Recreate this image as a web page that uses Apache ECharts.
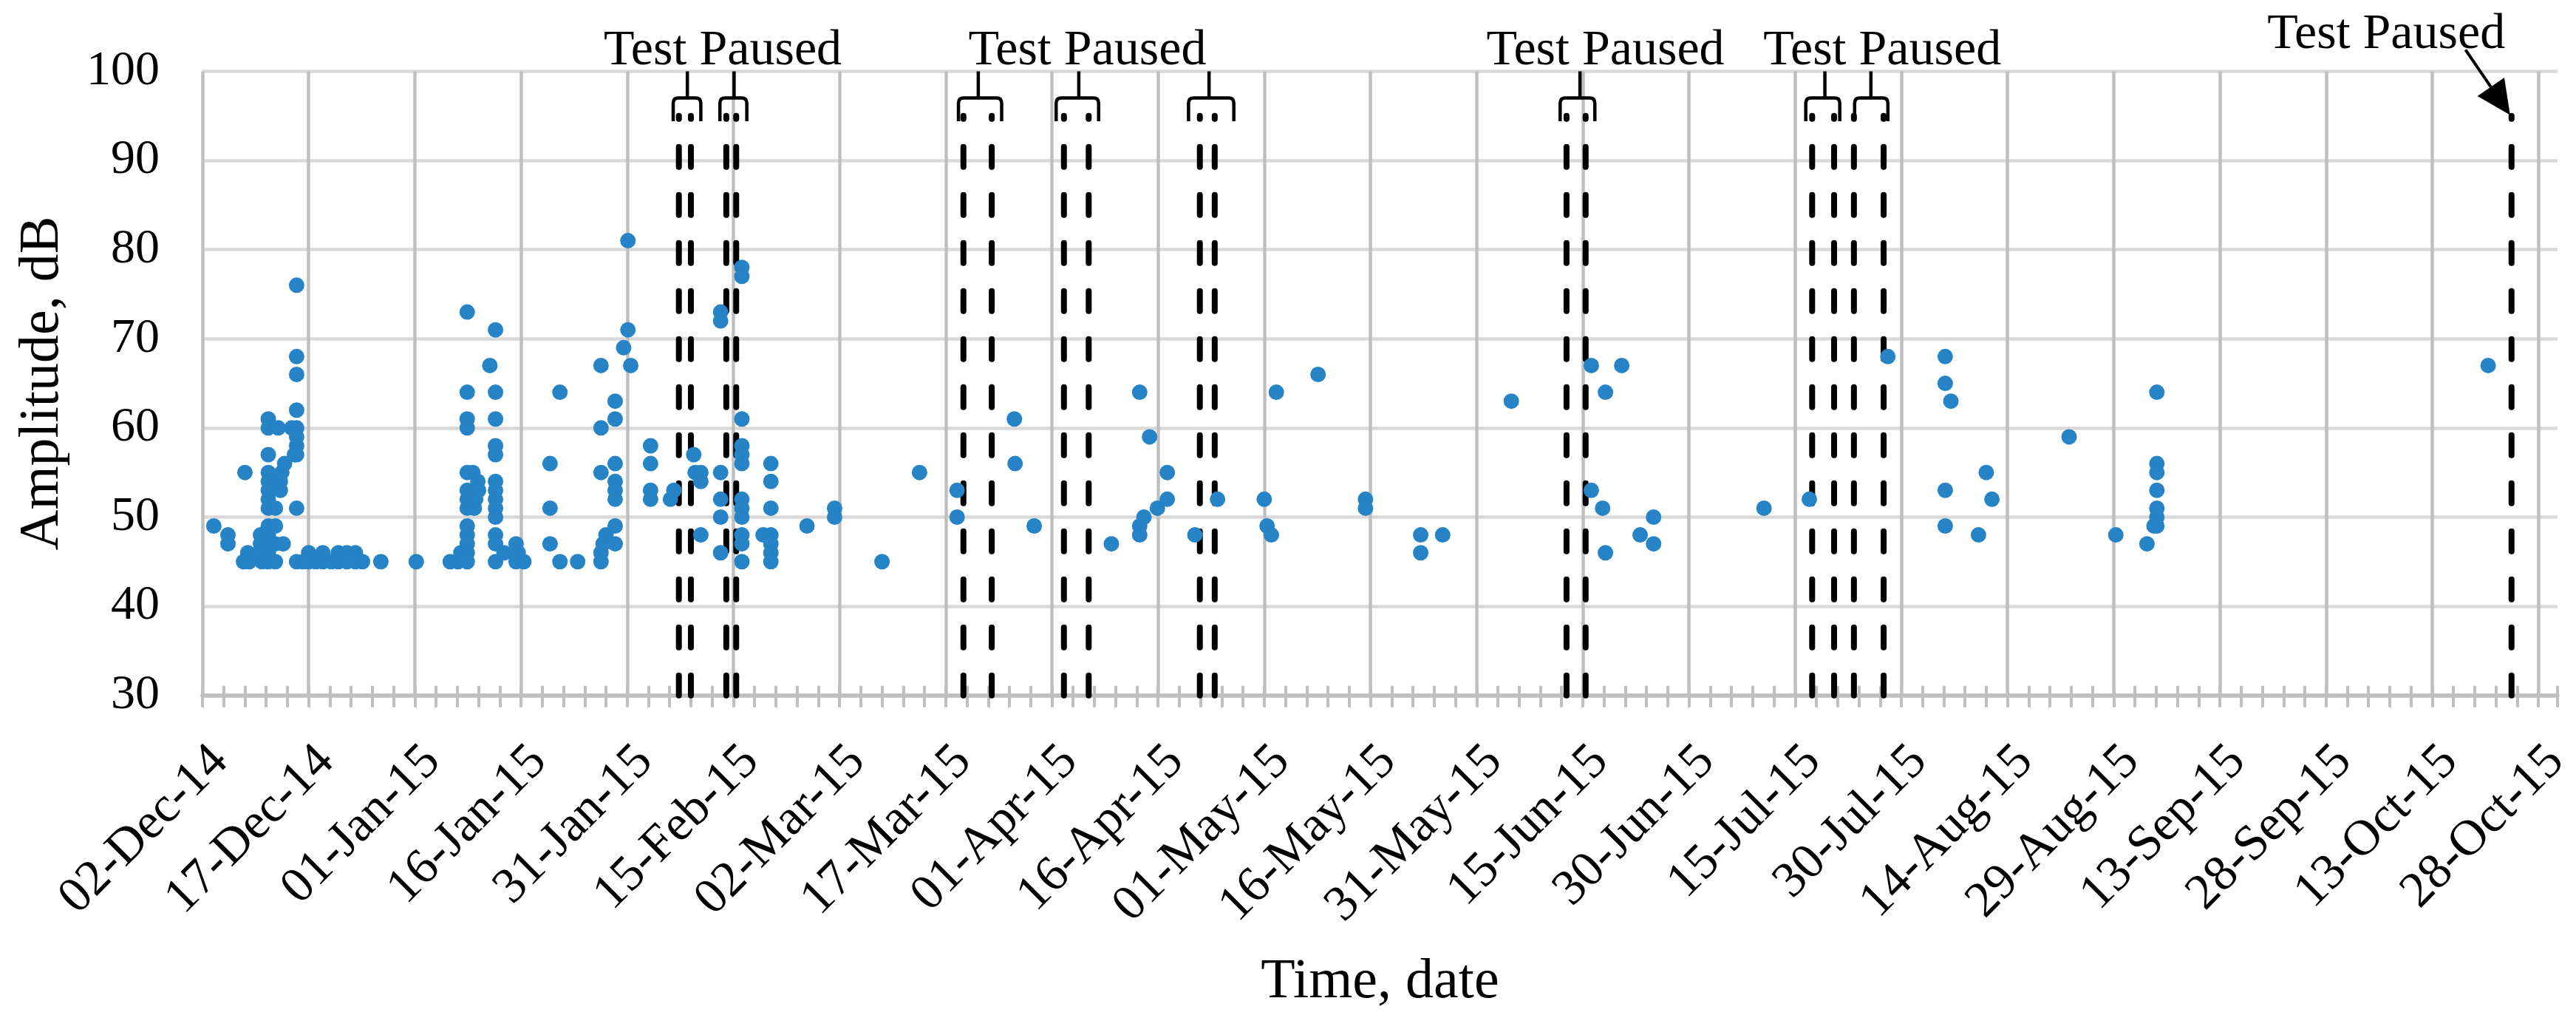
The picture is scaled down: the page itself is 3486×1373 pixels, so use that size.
<!DOCTYPE html>
<html><head><meta charset="utf-8">
<script src="https://cdn.jsdelivr.net/npm/echarts@6/dist/echarts.min.js"></script>
<style>html,body{margin:0;padding:0;background:#fff}#c{width:3486px;height:1373px}</style>
</head><body><div id="c"></div>
<script>
// ---- axis definition ----
const startDateUTC = Date.UTC(2014, 11, 2);   // 02-Dec-14 = day 0
const xMaxDays = 332.7;
const xTickStep = 15;
const xMinorStep = 3;
const yMin = 30, yMax = 100, yStep = 10;
const monthNames = ['Jan','Feb','Mar','Apr','May','Jun','Jul','Aug','Sep','Oct','Nov','Dec'];

// ---- AE hits: day offset from 02-Dec-14 and amplitude (dB) ----
const eventDays = [
  1.6, 3.6, 3.6, 6.0, 6.4, 5.8, 6.6, 8.2, 8.2, 8.4, 8.1,
  9.3, 9.3, 9.3, 9.3, 9.3, 9.3, 9.3, 9.3, 9.3, 9.3, 9.3, 9.3, 9.3,
  10.3, 10.3, 10.3, 10.3, 10.7, 11.0, 11.0, 11.2, 11.6, 11.4, 12.6, 13.0,
  13.3, 13.3, 13.3, 13.3, 13.3, 13.3, 13.3, 13.3, 13.3, 13.3,
  15.0, 17.0, 19.2, 20.4, 21.6,
  14.2, 15.0, 16.0, 17.0, 18.2, 19.2, 20.4, 21.6, 22.6, 25.2, 30.2,
  35.0, 36.1, 36.5,
  37.4, 37.4, 37.4, 37.4, 37.4, 37.4, 37.4, 37.4, 37.4, 37.4, 37.4, 37.4, 37.4,
  38.2, 38.4, 38.9, 39.0, 38.6, 40.6,
  41.4, 41.4, 41.4, 41.4, 41.4, 41.4, 41.4, 41.4, 41.4, 41.4, 41.4, 41.4, 41.4,
  42.6, 44.3, 44.6, 44.3, 45.4,
  49.1, 49.1, 49.1, 50.5, 50.5, 53.0,
  56.3, 56.3, 56.3, 56.3, 56.3, 57.0, 56.6,
  58.3, 58.3, 58.3, 58.3, 58.3, 58.3, 58.3, 58.3,
  59.5, 60.1, 60.1, 60.5,
  63.3, 63.3, 63.3, 63.3, 66.1, 66.6,
  69.4, 69.6, 70.4, 70.4, 70.4,
  73.2, 73.2, 73.2, 73.2, 73.2, 73.2,
  76.2, 76.2, 76.2, 76.2, 76.2, 76.2, 76.2, 76.2, 76.2, 76.2, 76.2, 76.2,
  79.2, 80.3, 80.3, 80.3, 80.3, 80.3, 80.3, 80.3,
  85.4, 89.3, 89.3, 96.0, 101.3, 106.6, 106.6, 114.7, 114.8, 117.5, 128.4,
  132.4, 132.4, 132.4, 133.0, 133.8, 134.9, 136.3, 136.3, 140.2, 143.4,
  150.0, 150.4, 151.0, 151.7, 157.6, 164.3, 164.3, 172.1, 172.1, 175.2,
  184.9, 196.2, 196.2, 197.8, 198.2, 198.2, 200.5, 203.1, 205.0, 205.0,
  220.6, 227.0, 238.1, 246.2, 246.2, 246.2, 246.2, 247.0, 250.9, 252.0, 252.8,
  263.7, 270.3, 274.7, 276.1, 276.1, 276.1, 276.1, 276.1, 276.1, 276.1, 275.7,
  322.9
];
const amplitudes = [
  49, 48, 47, 55, 46, 45, 45, 48, 47, 45, 46,
  61, 60, 57, 55, 54, 53, 52, 51, 49, 48, 47, 46, 45,
  51, 49, 47, 45, 60, 53, 54, 55, 56, 47, 60, 57,
  76, 68, 66, 62, 60, 59, 58, 57, 51, 45,
  46, 46, 46, 46, 46,
  45, 45, 45, 45, 45, 45, 45, 45, 45, 45, 45,
  45, 45, 46,
  73, 64, 61, 60, 55, 53, 52, 51, 49, 48, 47, 46, 45,
  55, 51, 54, 53, 52, 67,
  71, 64, 61, 58, 57, 54, 53, 52, 51, 50, 48, 47, 45,
  46, 47, 46, 45, 45,
  56, 51, 47, 64, 45, 45,
  67, 60, 55, 46, 45, 48, 47,
  63, 61, 56, 54, 53, 52, 49, 47,
  69, 81, 71, 67,
  58, 56, 53, 52, 52, 53,
  57, 55, 55, 54, 48,
  73, 72, 55, 52, 50, 46,
  78, 77, 61, 58, 57, 56, 52, 51, 50, 48, 47, 45,
  48, 56, 54, 51, 48, 47, 46, 45,
  49, 51, 50, 45, 55, 53, 50, 61, 56, 49, 47,
  64, 49, 48, 50, 59, 51, 55, 52, 48, 52,
  52, 49, 48, 64, 66, 52, 51, 48, 46, 48,
  63, 67, 53, 51, 64, 46, 67, 48, 50, 47,
  51, 52, 68, 68, 65, 53, 49, 63, 48, 55, 52,
  59, 48, 47, 64, 56, 55, 53, 51, 50, 49, 49,
  67
];

// ---- "Test Paused" annotations (days / dB) ----
const pauseLineDays = [67.3, 69.0, 74.0, 75.4, 107.5, 111.5, 121.7, 125.2, 140.9, 143.0,
                       192.7, 195.4, 227.4, 230.5, 233.3, 237.5, 326.2];
const pauseLineTop = 95;
const bracketLeft  = [66.5, 73.1, 106.8, 120.6, 139.3, 191.8, 226.5, 233.4];
const bracketRight = [70.4, 76.9, 112.9, 126.6, 145.7, 196.7, 231.3, 238.1];
const bracketStem  = [68.5, 75.1, 109.6, 123.8, 142.2, 194.6, 229.2, 235.7];
const bracketLevels = [94.4, 97.0, 100];   // leg bottom, bar, stem top
const labelText = 'Test Paused';
const labelDays   = [73.5, 125.0, 198.2, 237.3, 308.5];
const labelValues = [102.3, 102.3, 102.3, 102.3, 104.1];
const arrowFrom = [319.7, 102.4];
const arrowTo   = [326.0, 95.1];

// ---- helpers ----
function dateLabel(v) {
  const k = v / xTickStep;
  if (Math.abs(k - Math.round(k)) > 1e-6) return '';
  const d = new Date(startDateUTC + Math.round(v) * 86400000);
  const dd = String(d.getUTCDate()).padStart(2, '0');
  const yy = String(d.getUTCFullYear()).slice(2);
  return dd + '-' + monthNames[d.getUTCMonth()] + '-' + yy;
}
const FONT = '"Liberation Serif", "Times New Roman", serif';
const GRID_V = '#bfbfbf', GRID_H = '#d9d9d9';

const scatterData = eventDays.map((d, i) => [d, amplitudes[i]]);

const chart = echarts.init(document.getElementById('c'), null, {renderer: 'canvas'});
const tickAxis = (inside, len) => ({
  type: 'value', position: 'bottom', min: 0, max: xMaxDays, interval: xMinorStep,
  axisLine: {show: false}, axisLabel: {show: false}, splitLine: {show: false},
  axisTick: {show: true, inside: inside, length: len, lineStyle: {color: GRID_V, width: 4}}
});

chart.setOption({
  animation: false,
  backgroundColor: '#fff',
  grid: {left: 274, top: 96.4, width: 3187, height: 844.3},
  xAxis: [
    {
      type: 'value', position: 'bottom', min: 0, max: xMaxDays, interval: xTickStep,
      name: 'Time, date', nameLocation: 'middle', nameGap: 350,
      nameTextStyle: {fontFamily: FONT, fontSize: 76, color: '#000'},
      axisLine: {show: true, onZero: false, lineStyle: {color: GRID_V, width: 5.5}},
      axisTick: {show: false},
      axisLabel: {
        show: true, rotate: 45, align: 'right', verticalAlign: 'top', margin: 55,
        fontFamily: FONT, fontSize: 68, color: '#000', formatter: dateLabel,
        showMaxLabel: false
      },
      splitLine: {show: true, showMaxLine: false, lineStyle: {color: GRID_V, width: 4.5}}
    },
    tickAxis(false, 16),
    tickAxis(true, 13)
  ],
  yAxis: {
    type: 'value', min: yMin, max: yMax, interval: yStep,
    name: 'Amplitude, dB', nameLocation: 'middle', nameGap: 178, nameRotate: 90,
    nameTextStyle: {fontFamily: FONT, fontSize: 76, color: '#000'},
    axisLine: {show: false}, axisTick: {show: false},
    axisLabel: {fontFamily: FONT, fontSize: 66, color: '#000', margin: 58},
    splitLine: {show: true, lineStyle: {color: GRID_H, width: 4.5}}
  },
  series: [
    {
      type: 'custom', name: 'pauseLines', z: 3, clip: false, silent: true,
      data: pauseLineDays.map(d => [d, yMin]),
      renderItem(params, api) {
        const d = api.value(0);
        const p0 = api.coord([d, yMin]), p1 = api.coord([d, pauseLineTop]);
        return {type: 'line', shape: {x1: p0[0], y1: p0[1], x2: p1[0], y2: p1[1]},
          style: {stroke: '#000', lineWidth: 8, lineDash: [27, 38], lineCap: 'round'}};
      }
    },
    {
      type: 'custom', name: 'brackets', z: 3, clip: false, silent: true,
      data: bracketLeft.map((l, i) => [l, yMin, bracketRight[i], bracketStem[i]]),
      renderItem(params, api) {
        const l = api.value(0), r = api.value(2), s = api.value(3);
        const a = api.coord([l, bracketLevels[0]]), b = api.coord([l, bracketLevels[1]]);
        const c = api.coord([r, bracketLevels[1]]), e = api.coord([r, bracketLevels[0]]);
        const st = api.coord([s, bracketLevels[2]]), sb = api.coord([s, bracketLevels[1]]);
        const rad = 7;
        const path = `M${a[0]},${a[1]} L${b[0]},${b[1] + rad} Q${b[0]},${b[1]} ${b[0] + rad},${b[1]} ` +
          `L${c[0] - rad},${c[1]} Q${c[0]},${c[1]} ${c[0]},${c[1] + rad} L${e[0]},${e[1]} ` +
          `M${st[0]},${st[1]} L${sb[0]},${sb[1]}`;
        return {type: 'path', shape: {pathData: path},
          style: {stroke: '#000', lineWidth: 4.5, fill: null}};
      }
    },
    {
      type: 'custom', name: 'labels', z: 4, clip: false, silent: true,
      data: labelDays.map((d, i) => [d, labelValues[i]]),
      renderItem(params, api) {
        const p = api.coord([api.value(0), api.value(1)]);
        return {type: 'text', x: p[0], y: p[1],
          style: {text: labelText, fontFamily: FONT, fontSize: 68, fill: '#000',
                  align: 'center', verticalAlign: 'middle'}};
      }
    },
    {
      type: 'custom', name: 'arrow', z: 4, clip: false, silent: true,
      data: [[arrowFrom[0], arrowFrom[1], arrowTo[0], arrowTo[1]]],
      renderItem(params, api) {
        const a = api.coord([api.value(0), api.value(1)]);
        const b = api.coord([api.value(2), api.value(3)]);
        const dx = b[0] - a[0], dy = b[1] - a[1], len = Math.hypot(dx, dy);
        const ux = dx / len, uy = dy / len, headL = 46, headW = 22;
        const bx = b[0] - ux * headL, by = b[1] - uy * headL;
        return {type: 'group', children: [
          {type: 'line', shape: {x1: a[0], y1: a[1], x2: bx, y2: by}, style: {stroke: '#000', lineWidth: 4}},
          {type: 'polygon', shape: {points: [[b[0], b[1]], [bx - uy * headW, by + ux * headW], [bx + uy * headW, by - ux * headW]]},
           style: {fill: '#000'}}
        ]};
      }
    },
    {
      type: 'scatter', name: 'Amplitude', z: 5, symbol: 'circle', symbolSize: 21,
      itemStyle: {color: '#2683c6', opacity: 1},
      data: scatterData
    }
  ]
});
</script></body></html>
